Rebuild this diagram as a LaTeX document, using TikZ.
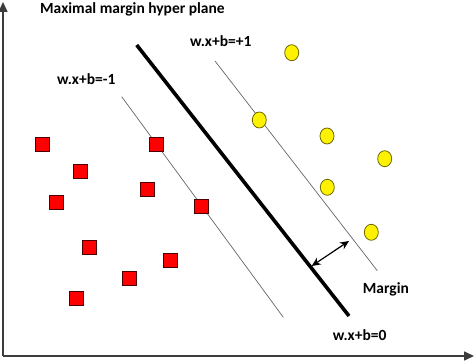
\documentclass[tikz,border=0pt]{standalone}
\usepackage{fontspec}
\setmainfont{Carlito}
\usetikzlibrary{arrows.meta,shapes.geometric}
\definecolor{sqedge}{HTML}{4A0000}
\definecolor{ciedge}{HTML}{6E6A00}
\definecolor{axisgray}{HTML}{3C3C3C}
\begin{document}
\begin{tikzpicture}[x=1pt,y=-1pt,
  sq/.style={draw=sqedge, fill=red, minimum size=14pt, inner sep=0pt, line width=0.8pt},
  ci/.style={ellipse, draw=ciedge, fill=yellow, minimum width=14pt, minimum height=16pt, inner sep=0pt, line width=0.8pt},
  lbl/.style={font=\fontsize{15.5}{18}\selectfont\bfseries, inner sep=0pt},
  thinline/.style={draw=black!60, line width=0.7pt},
  axis/.style={draw=axisgray, line width=1.6pt, -{Triangle[length=10pt,width=9pt]}}]
\useasboundingbox[fill=white] (0,0) rectangle (474,363);
% axes
\coordinate (o) at (3,356);
\coordinate (ytop) at (3,2);
\coordinate (xend) at (474,356);
\draw[axis] (o) -- (ytop);
\draw[axis] (o) -- (xend);
% hyperplanes
\coordinate (h0a) at (136.7,45);
\coordinate (h0b) at (349,316);
\coordinate (hpa) at (215,61);
\coordinate (hpb) at (377.3,270.7);
\coordinate (hma) at (121.7,96.7);
\coordinate (hmb) at (283.3,317.3);
\draw[line width=3.6pt] (h0a) -- (h0b);
\draw[thinline] (hpa) -- (hpb);
\draw[thinline] (hma) -- (hmb);
% margin arrow
\coordinate (ma) at (311.7,266);
\coordinate (mb) at (349,241);
\draw[line width=1.2pt, {Stealth[length=9pt,width=8pt]}-{Stealth[length=9pt,width=8pt]}] (ma) -- (mb);
% squares
\node[sq] (s1) at (42.7,144.3) {};
\node[sq] (s2) at (156.3,144.3) {};
\node[sq] (s3) at (80.7,171) {};
\node[sq] (s4) at (147.7,189) {};
\node[sq] (s5) at (56.3,202.3) {};
\node[sq] (s6) at (201.7,206.3) {};
\node[sq] (s7) at (89.7,247) {};
\node[sq] (s8) at (170,260) {};
\node[sq] (s9) at (129.3,278.3) {};
\node[sq] (s10) at (76.3,298.3) {};
% circles
\node[ci] (c1) at (291.7,52.7) {};
\node[ci] (c2) at (259.3,120) {};
\node[ci] (c3) at (327,136) {};
\node[ci] (c4) at (384.7,158.7) {};
\node[ci] (c5) at (327.3,187.3) {};
\node[ci] (c6) at (371.3,232.3) {};
% labels
\node[lbl, anchor=west] (title) at (40,9) {Maximal margin hyper plane};
\node[lbl, anchor=west] (lm) at (57,79) {w.x+b=-1};
\node[lbl, anchor=west] (lp) at (190,41) {w.x+b=+1};
\node[lbl, anchor=west] (lmargin) at (362.7,289) {Margin};
\node[lbl, anchor=west] (l0) at (332.7,335) {w.x+b=0};
\end{tikzpicture}
\end{document}
